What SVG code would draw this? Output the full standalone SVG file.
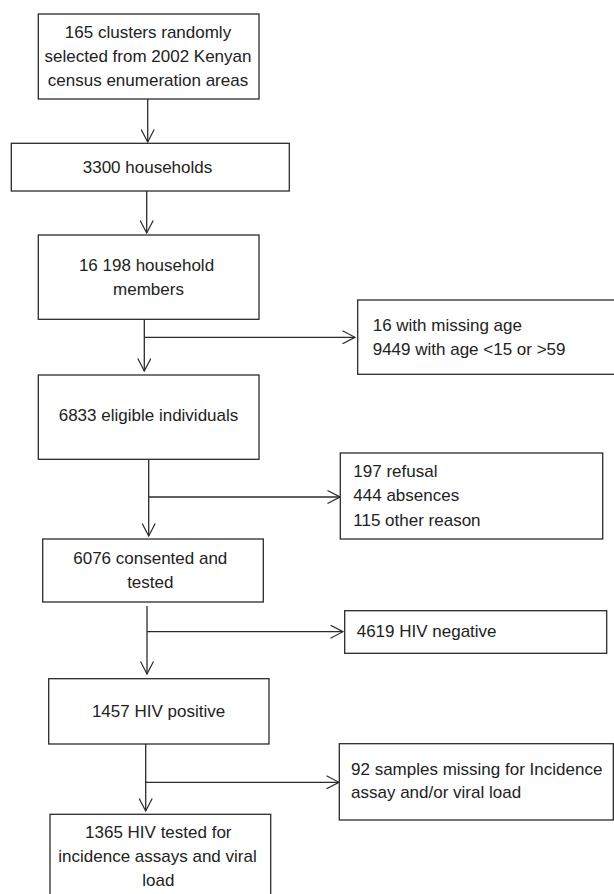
<svg xmlns="http://www.w3.org/2000/svg" width="614" height="894" viewBox="0 0 614 894">
<defs>
<marker id="arr" viewBox="0 0 14 14" refX="13" refY="7" markerWidth="14" markerHeight="14" markerUnits="userSpaceOnUse" orient="auto">
<path d="M0.5,0.5 L13,7 L0.5,13.5" fill="none" stroke="#2b2b2b" stroke-width="1.2"/>
</marker>
<style>
.box{fill:#fff;stroke:#2b2b2b;stroke-width:1.3}
.t{font-family:"Liberation Sans",Arial,sans-serif;font-size:17px;fill:#222}
.c{text-anchor:middle}
.ln{fill:none;stroke:#2b2b2b;stroke-width:1.3}
</style>
</defs>
<rect width="614" height="894" fill="#fff"/>
<g id="connectors">
<line class="ln" x1="147.7" y1="99" x2="147.7" y2="142" marker-end="url(#arr)"/>
<line class="ln" x1="146.7" y1="191" x2="146.7" y2="233" marker-end="url(#arr)"/>
<line class="ln" x1="144.3" y1="319.3" x2="144.3" y2="371" marker-end="url(#arr)"/>
<line class="ln" x1="144.3" y1="337.3" x2="355" y2="337.3" marker-end="url(#arr)"/>
<line class="ln" x1="148.7" y1="459.3" x2="148.7" y2="536" marker-end="url(#arr)"/>
<line class="ln" x1="148.7" y1="497" x2="340" y2="497" marker-end="url(#arr)"/>
<line class="ln" x1="147" y1="606" x2="147" y2="674" marker-end="url(#arr)"/>
<line class="ln" x1="147" y1="631.7" x2="343" y2="631.7" marker-end="url(#arr)"/>
<line class="ln" x1="145.7" y1="744" x2="145.7" y2="811" marker-end="url(#arr)"/>
<line class="ln" x1="145.7" y1="782.3" x2="339" y2="782.3" marker-end="url(#arr)"/>
</g>
<g id="n1">
<rect class="box" x="38.3" y="14" width="220.7" height="85"/>
<text class="t c" x="148" y="38">165 clusters randomly</text>
<text class="t c" x="148" y="62">selected from 2002 Kenyan</text>
<text class="t c" x="148" y="86">census enumeration areas</text>
</g>
<g id="n2">
<rect class="box" x="11.3" y="143.3" width="278" height="47.7"/>
<text class="t c" x="147.5" y="173.3">3300 households</text>
</g>
<g id="n3">
<rect class="box" x="38.3" y="235" width="220.7" height="84.3"/>
<text class="t c" x="146.5" y="270.7">16 198 household</text>
<text class="t c" x="148.5" y="295">members</text>
</g>
<g id="n3x">
<rect class="box" x="357.7" y="300" width="260" height="74.3"/>
<text class="t" x="372.7" y="331">16 with missing age</text>
<text class="t" x="372.7" y="355">9449 with age &lt;15 or &gt;59</text>
</g>
<g id="n4">
<rect class="box" x="38.3" y="375" width="220.7" height="84.3"/>
<text class="t c" x="148.5" y="421">6833 eligible individuals</text>
</g>
<g id="n4x">
<rect class="box" x="340.3" y="453" width="262.4" height="86"/>
<text class="t" x="353.3" y="476.7">197 refusal</text>
<text class="t" x="353.3" y="501.3">444 absences</text>
<text class="t" x="353.3" y="526">115 other reason</text>
</g>
<g id="n5">
<rect class="box" x="42.7" y="539" width="220.6" height="63"/>
<text class="t c" x="150.3" y="564">6076 consented and</text>
<text class="t c" x="150.3" y="587.7">tested</text>
</g>
<g id="n5x">
<rect class="box" x="344.7" y="610.7" width="262" height="42.6"/>
<text class="t" x="356.7" y="636.7">4619 HIV negative</text>
</g>
<g id="n6">
<rect class="box" x="48.7" y="678.7" width="220.3" height="65.3"/>
<text class="t c" x="158.5" y="716.7">1457 HIV positive</text>
</g>
<g id="n6x">
<rect class="box" x="339.3" y="743.7" width="274" height="76.3"/>
<text class="t" x="351" y="775">92 samples missing for Incidence</text>
<text class="t" x="351" y="798.3">assay and/or viral load</text>
</g>
<g id="n7">
<rect class="box" x="50" y="814.3" width="220.7" height="90"/>
<text class="t c" x="158.3" y="838.3">1365 HIV tested for</text>
<text class="t c" x="157.5" y="862.3">incidence assays and viral</text>
<text class="t c" x="158.3" y="885.7">load</text>
</g>
</svg>
